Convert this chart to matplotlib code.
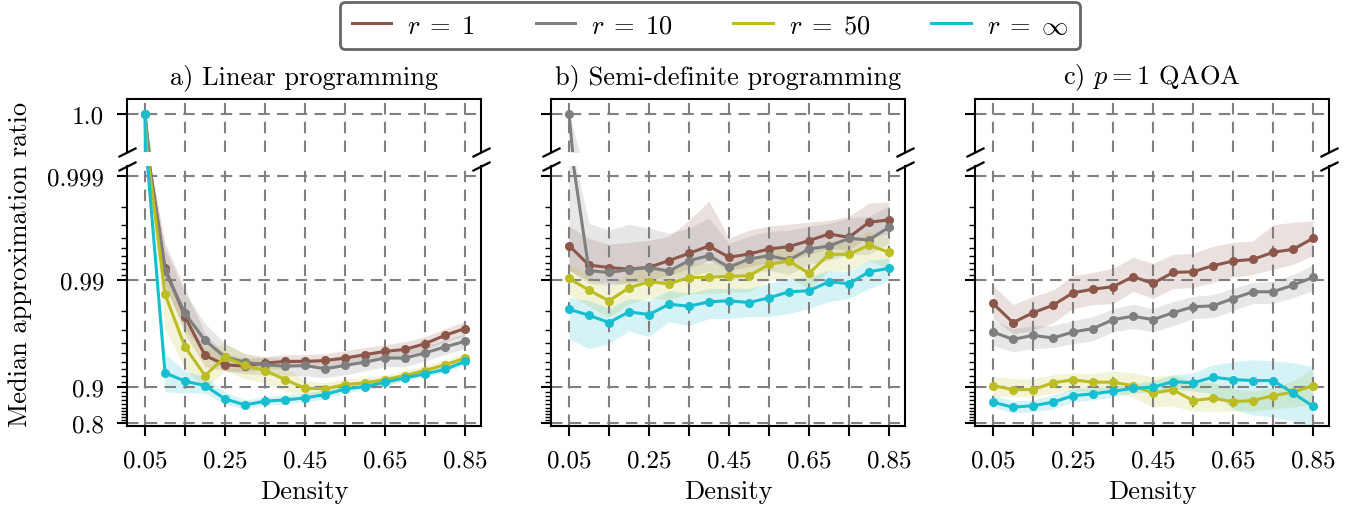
import numpy as np
import matplotlib
matplotlib.use("Agg")
import matplotlib.pyplot as plt
from matplotlib.lines import Line2D
from matplotlib.ticker import NullFormatter

plt.rcParams['font.family'] = 'serif'
plt.rcParams['font.serif'] = ['cmr10']
plt.rcParams['mathtext.fontset'] = 'cm'
plt.rcParams['axes.formatter.use_mathtext'] = True
plt.rcParams['font.size'] = 19

density = [0.05, 0.10, 0.15, 0.20, 0.25, 0.30, 0.35, 0.40, 0.45,
           0.50, 0.55, 0.60, 0.65, 0.70, 0.75, 0.80, 0.85]
series_labels = [r'$r\;=\;1$', r'$r\;=\;10$', r'$r\;=\;50$', r'$r\;=\;\infty$']
series_colors = ['tab:brown', 'tab:gray', 'tab:olive', 'tab:cyan']
titles = ['a) Linear programming', 'b) Semi-definite programming', r'c) $p=1$ QAOA']
xtick_vals = [0.05, 0.15, 0.25, 0.35, 0.45, 0.55, 0.65, 0.75, 0.85]
xtick_labels = ['0.05', '', '0.25', '', '0.45', '', '0.65', '', '0.85']
ytick_vals = [0.8, 0.9, 0.99, 0.999]
ytick_labels = ['0.8', '0.9', '0.99', '0.999']
ytick_minor = [0.81, 0.82, 0.83, 0.84, 0.85, 0.86, 0.87, 0.88, 0.89,
               0.91, 0.92, 0.93, 0.94, 0.95, 0.96, 0.97, 0.98,
               0.991, 0.992, 0.993, 0.994, 0.995, 0.996, 0.997, 0.998]

# a) Linear programming
a_r1 = [1.0, 0.9922, 0.9774, 0.9479, 0.9365, 0.9348, 0.9388, 0.9408, 0.9408, 0.9420, 0.9449, 0.9487, 0.9522, 0.9541, 0.9594, 0.9661, 0.9707]
a_r1_hi = [1.0, 0.9955, 0.9878, 0.9673, 0.9498, 0.9441, 0.9464, 0.9487, 0.9487, 0.9498, 0.9529, 0.9558, 0.9585, 0.9611, 0.9651, 0.9707, 0.9748]
a_r1_lo = [1.0, 0.9891, 0.9673, 0.9339, 0.9280, 0.9265, 0.9310, 0.9325, 0.9325, 0.9339, 0.9365, 0.9417, 0.9452, 0.9475, 0.9539, 0.9611, 0.9658]
a_r10 = [1.0, 0.9917, 0.9789, 0.9622, 0.9461, 0.9400, 0.9365, 0.9348, 0.9356, 0.9310, 0.9356, 0.9400, 0.9449, 0.9449, 0.9505, 0.9565, 0.9614]
a_r10_hi = [1.0, 0.9950, 0.9864, 0.9737, 0.9594, 0.9498, 0.9464, 0.9441, 0.9452, 0.9417, 0.9452, 0.9487, 0.9529, 0.9529, 0.9576, 0.9627, 0.9673]
a_r10_lo = [1.0, 0.9878, 0.9707, 0.9498, 0.9280, 0.9234, 0.9218, 0.9202, 0.9202, 0.9169, 0.9218, 0.9280, 0.9339, 0.9339, 0.9417, 0.9487, 0.9548]
a_r50 = [1.0, 0.9862, 0.9565, 0.9207, 0.9461, 0.9356, 0.9285, 0.9139, 0.8974, 0.8960, 0.9047, 0.9079, 0.9139, 0.9207, 0.9285, 0.9365, 0.9449]
a_r50_hi = [1.0, 0.9913, 0.9737, 0.9548, 0.9594, 0.9498, 0.9441, 0.9339, 0.9116, 0.9079, 0.9151, 0.9169, 0.9218, 0.9280, 0.9352, 0.9429, 0.9508]
a_r50_lo = [1.0, 0.9707, 0.9310, 0.8960, 0.9280, 0.9151, 0.9079, 0.8917, 0.8828, 0.8828, 0.8939, 0.8981, 0.9041, 0.9134, 0.9218, 0.9295, 0.9392]
a_rinf = [1.0, 0.9249, 0.9110, 0.9027, 0.8733, 0.8575, 0.8675, 0.8708, 0.8755, 0.8836, 0.8960, 0.9007, 0.9091, 0.9169, 0.9234, 0.9300, 0.9408]
a_rinf_hi = [1.0, 0.9498, 0.9280, 0.9185, 0.8895, 0.8708, 0.8780, 0.8828, 0.8872, 0.8939, 0.9041, 0.9079, 0.9151, 0.9218, 0.9280, 0.9352, 0.9452]
a_rinf_lo = [1.0, 0.8895, 0.8872, 0.8872, 0.8603, 0.8462, 0.8575, 0.8603, 0.8657, 0.8733, 0.8872, 0.8939, 0.9021, 0.9116, 0.9185, 0.9249, 0.9365]

# b) Semi-definite programming
b_r1 = [0.99529, 0.99274, 0.99233, 0.99206, 0.99238, 0.99342, 0.99441, 0.99524, 0.99389, 0.99432, 0.99492, 0.99518, 0.99578, 0.99636, 0.99608, 0.99720, 0.99734]
b_r1_hi = [0.99694, 0.99599, 0.99542, 0.99562, 0.99581, 0.99617, 0.99732, 0.99825, 0.99599, 0.99665, 0.99694, 0.99707, 0.99720, 0.99732, 0.99755, 0.99817, 0.99821]
b_r1_lo = [0.99183, 0.98980, 0.98910, 0.98933, 0.98980, 0.99087, 0.99219, 0.99346, 0.99183, 0.99252, 0.99316, 0.99346, 0.99428, 0.99500, 0.99477, 0.99617, 0.99633]
b_r10 = [1.0, 0.99178, 0.99145, 0.99196, 0.99233, 0.99170, 0.99342, 0.99411, 0.99238, 0.99365, 0.99411, 0.99350, 0.99492, 0.99524, 0.99599, 0.99584, 0.99687]
b_r10_hi = [1.0, 0.99714, 0.99665, 0.99707, 0.99680, 0.99642, 0.99680, 0.99744, 0.99552, 0.99617, 0.99657, 0.99665, 0.99694, 0.99714, 0.99744, 0.99755, 0.99804]
b_r10_lo = [0.99183, 0.98910, 0.98860, 0.98910, 0.98933, 0.98860, 0.99066, 0.99165, 0.98960, 0.99107, 0.99183, 0.99107, 0.99285, 0.99346, 0.99428, 0.99428, 0.99552]
b_r50 = [0.99024, 0.98736, 0.98400, 0.98800, 0.98950, 0.98903, 0.99044, 0.99048, 0.99072, 0.99079, 0.99285, 0.99336, 0.99127, 0.99428, 0.99428, 0.99534, 0.99452]
b_r50_hi = [0.99288, 0.99077, 0.98832, 0.99124, 0.99233, 0.99199, 0.99302, 0.99305, 0.99323, 0.99328, 0.99478, 0.99515, 0.99420, 0.99582, 0.99582, 0.99660, 0.99600]
b_r50_lo = [0.98605, 0.98193, 0.97710, 0.98284, 0.98500, 0.98431, 0.98633, 0.98639, 0.98673, 0.98683, 0.98978, 0.99050, 0.98752, 0.99181, 0.99181, 0.99334, 0.99216]
b_rinf = [0.98076, 0.97806, 0.97425, 0.97965, 0.97839, 0.98278, 0.98201, 0.98367, 0.98402, 0.98340, 0.98504, 0.98690, 0.98719, 0.98950, 0.98903, 0.99158, 0.99219]
b_rinf_hi = [0.98513, 0.98412, 0.98106, 0.98480, 0.98412, 0.98727, 0.98639, 0.98782, 0.98782, 0.98782, 0.98910, 0.99024, 0.99066, 0.99183, 0.99165, 0.99346, 0.99375]
b_rinf_lo = [0.96350, 0.95483, 0.95942, 0.96934, 0.96509, 0.97480, 0.97250, 0.97642, 0.97642, 0.97740, 0.97740, 0.97886, 0.98106, 0.98376, 0.98480, 0.98782, 0.98960]

# c) p=1 QAOA
c_r1 = [0.98305, 0.97425, 0.97923, 0.98240, 0.98659, 0.98763, 0.98828, 0.99061, 0.98910, 0.99145, 0.99158, 0.99264, 0.99336, 0.99360, 0.99453, 0.99488, 0.99599]
c_r1_hi = [0.98860, 0.98267, 0.98545, 0.98736, 0.99087, 0.99145, 0.99219, 0.99389, 0.99301, 0.99428, 0.99441, 0.99521, 0.99562, 0.99574, 0.99703, 0.99720, 0.99728]
c_r1_lo = [0.97642, 0.96732, 0.96934, 0.97425, 0.98106, 0.98267, 0.98305, 0.98698, 0.98480, 0.98782, 0.98808, 0.98933, 0.99048, 0.99107, 0.99201, 0.99285, 0.99415]
c_r10 = [0.96847, 0.96295, 0.96609, 0.96408, 0.96847, 0.97067, 0.97589, 0.97759, 0.97589, 0.97923, 0.98179, 0.98215, 0.98480, 0.98690, 0.98690, 0.98868, 0.99048]
c_r10_hi = [0.97535, 0.97067, 0.97250, 0.97250, 0.97535, 0.97740, 0.98106, 0.98267, 0.98106, 0.98376, 0.98545, 0.98608, 0.98782, 0.98933, 0.98960, 0.99107, 0.99269]
c_r10_lo = [0.95760, 0.95180, 0.95483, 0.95580, 0.95942, 0.96190, 0.96865, 0.97067, 0.96865, 0.97250, 0.97642, 0.97692, 0.98020, 0.98305, 0.98305, 0.98513, 0.98727]
c_r50 = [0.9027, 0.8945, 0.8945, 0.9079, 0.9134, 0.9091, 0.9091, 0.9027, 0.8872, 0.8939, 0.8691, 0.8747, 0.8664, 0.8691, 0.8811, 0.8889, 0.9027]
c_r50_hi = [0.9202, 0.9151, 0.9151, 0.9218, 0.9249, 0.9234, 0.9280, 0.9249, 0.9185, 0.9218, 0.9116, 0.9079, 0.8960, 0.8917, 0.8981, 0.9116, 0.9310]
c_r50_lo = [0.8804, 0.8780, 0.8780, 0.8872, 0.8917, 0.8917, 0.8895, 0.8780, 0.8520, 0.8548, 0.8403, 0.8403, 0.8403, 0.8403, 0.8462, 0.8520, 0.8575]
c_rinf = [0.8648, 0.8512, 0.8556, 0.8648, 0.8811, 0.8852, 0.8910, 0.8974, 0.8995, 0.9102, 0.9079, 0.9180, 0.9139, 0.9121, 0.9121, 0.8872, 0.8538]
c_rinf_hi = [0.8828, 0.8683, 0.8708, 0.8828, 0.8960, 0.8981, 0.9021, 0.9060, 0.9116, 0.9218, 0.9249, 0.9365, 0.9404, 0.9429, 0.9417, 0.9392, 0.9339]
c_rinf_lo = [0.8520, 0.8343, 0.8373, 0.8462, 0.8657, 0.8708, 0.8780, 0.8872, 0.8895, 0.8960, 0.8917, 0.8852, 0.8462, 0.8278, 0.8211, 0.8079, 0.7862]

panels = [
    [(a_r1, a_r1_lo, a_r1_hi), (a_r10, a_r10_lo, a_r10_hi),
     (a_r50, a_r50_lo, a_r50_hi), (a_rinf, a_rinf_lo, a_rinf_hi)],
    [(b_r1, b_r1_lo, b_r1_hi), (b_r10, b_r10_lo, b_r10_hi),
     (b_r50, b_r50_lo, b_r50_hi), (b_rinf, b_rinf_lo, b_rinf_hi)],
    [(c_r1, c_r1_lo, c_r1_hi), (c_r10, c_r10_lo, c_r10_hi),
     (c_r50, c_r50_lo, c_r50_hi), (c_rinf, c_rinf_lo, c_rinf_hi)],
]

W, H = 1347, 506
fig = plt.figure(figsize=(W / 100, H / 100), dpi=100)

# pixel layout of the broken axes
lefts = [127, 551, 975]
ax_w = 354
top_y0, top_y1 = 100, 153
bot_y0, bot_y1 = 167, 427
CAP = 0.9996  # values of exactly 1 are drawn at the top edge of the logit axis
grid_kw = dict(color='#808080', linestyle=(0, (5.5, 3.5)), linewidth=1.5)
break_kw = dict(marker=[(-1, -0.5), (1, 0.5)], markersize=13, linestyle='none',
                color='k', mec='k', mew=1.6, clip_on=False)

for i, left in enumerate(lefts):
    ax_top = fig.add_axes([left / W, 1 - top_y1 / H, ax_w / W, (top_y1 - top_y0) / H])
    ax_bot = fig.add_axes([left / W, 1 - bot_y1 / H, ax_w / W, (bot_y1 - bot_y0) / H],
                          sharex=ax_top)

    for (vals, lo, hi), col in zip(panels[i], series_colors):
        vals, lo, hi = np.array(vals), np.array(lo), np.array(hi)
        ax_top.fill_between(density, lo, hi, color=col, alpha=0.18, lw=0)
        ax_top.plot(density, vals, color=col, lw=2.2, marker='o', ms=5.5)
        ax_bot.fill_between(density, np.minimum(lo, CAP), np.minimum(hi, CAP),
                            color=col, alpha=0.18, lw=0)
        ax_bot.plot(density, np.minimum(vals, CAP), color=col, lw=2.2,
                    marker='o', ms=5.5)

    ax_bot.set_yscale('logit')
    ax_bot.set_ylim(0.79, 0.9992)
    ax_bot.set_yticks(ytick_vals, ytick_labels)
    ax_bot.set_yticks(ytick_minor, minor=True)
    ax_bot.yaxis.set_minor_formatter(NullFormatter())
    ax_top.set_ylim(0.9985, 1.00059)
    ax_top.set_yticks([1.0], ['1.0'])
    ax_bot.set_xlim(0.005, 0.89)
    ax_bot.set_xticks(xtick_vals, xtick_labels)

    ax_top.spines['bottom'].set_visible(False)
    ax_bot.spines['top'].set_visible(False)
    for ax in (ax_top, ax_bot):
        for s in ax.spines.values():
            s.set_linewidth(1.5)
        ax.tick_params(which='major', direction='out', length=7.5, width=1.5,
                       labelsize=18, pad=9)
        ax.tick_params(which='minor', direction='out', length=4.5, width=1.0)
        ax.grid(True, which='major', **grid_kw)
    ax_top.tick_params(axis='x', which='both', bottom=False, labelbottom=False)
    if i > 0:
        ax_top.tick_params(labelleft=False)
        ax_bot.tick_params(labelleft=False)

    ax_top.plot([0, 1], [0, 0], transform=ax_top.transAxes, **break_kw)
    ax_bot.plot([0, 1], [1, 1], transform=ax_bot.transAxes, **break_kw)

    ax_top.set_title(titles[i], fontsize=19, pad=11)
    ax_bot.set_xlabel('Density', fontsize=19, labelpad=6)

fig.text(20 / W, 1 - 264 / H, 'Median approximation ratio', rotation=90,
         ha='center', va='center', fontsize=19)

handles = [Line2D([], [], color=c, lw=2.2) for c in series_colors]
leg = fig.legend(handles, series_labels, loc='upper center', bbox_to_anchor=(710 / W, 1 - 3 / H),
                 ncol=4, fontsize=19, fancybox=True, framealpha=1, edgecolor='#666666',
                 handlelength=1.5, handletextpad=0.6, columnspacing=2.3,
                 borderpad=0.45, borderaxespad=0)
leg.get_frame().set_linewidth(2)

fig.savefig('out.png', dpi=100)
